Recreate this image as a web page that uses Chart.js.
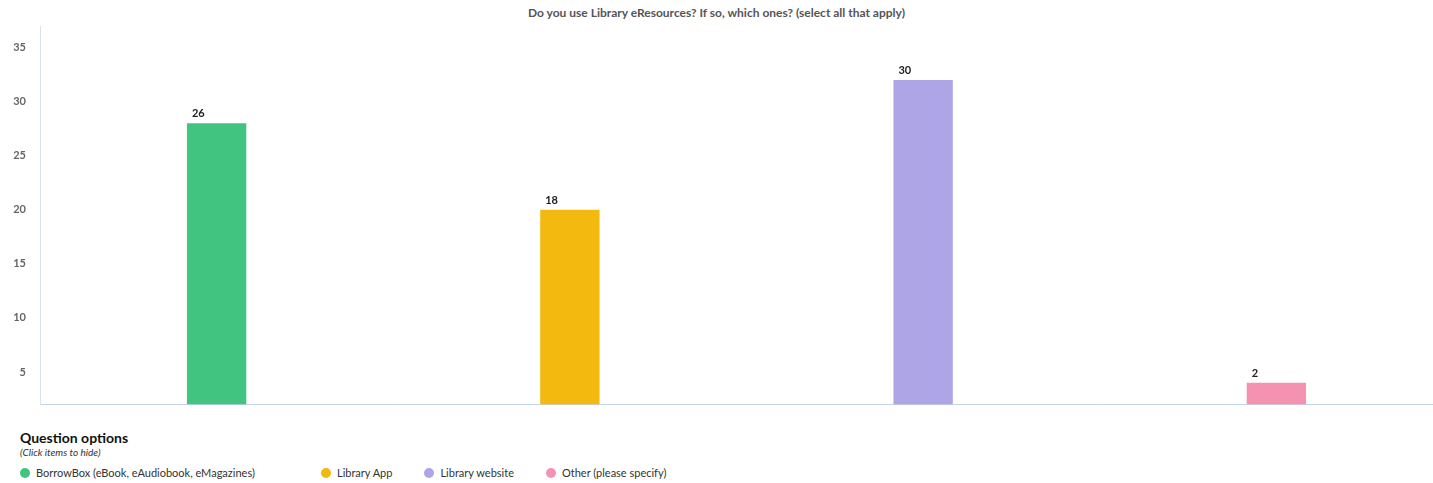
<!DOCTYPE html>
<html>
<head>
<meta charset="utf-8">
<script src="https://cdn.jsdelivr.net/npm/chart.js@4.4.0/dist/chart.umd.min.js"></script>
<style>
  html, body { margin: 0; padding: 0; overflow: hidden; background: #fff; font-family: Lato, sans-serif; }
  #title { position: absolute; top: 5px; left: 0; width: 1433px; text-align: center;
           font-size: 12px; font-weight: bold; color: #555; }
  #wrap { position: absolute; top: 0; left: 0; width: 1453px; height: 425px; }
  #legend { position: absolute; top: 430px; left: 20px; color: #333; }
  #legend h4 { margin: 0; font-size: 14px; font-weight: bold; color: #111; line-height: 16px; }
  #legend .hint { font-size: 10px; font-style: italic; color: #333; line-height: 12px; }
  #legend ul { list-style: none; margin: 8px 0 0 0; padding: 0; display: flex; }
  #legend li { display: flex; align-items: center; font-size: 11px; margin-right: 32px; cursor: pointer; }
  #legend li:first-child { min-width: 269px; }
  #legend li span.dot { width: 10px; height: 10px; border-radius: 50%; margin-right: 6px; }
  #legend li.off { opacity: 0.4; }
</style>
</head>
<body>
<div id="title">Do you use Library eResources? If so, which ones? (select all that apply)</div>
<div id="wrap"><canvas id="myChart" width="1453" height="425"></canvas></div>
<div id="legend">
  <h4>Question options</h4>
  <div class="hint">(Click items to hide)</div>
  <ul id="legendItems"></ul>
</div>
<script>
  'use strict'

  const categories = [
    'BorrowBox (eBook, eAudiobook, eMagazines)',
    'Library App',
    'Library website',
    'Other (please specify)'
  ];
  const responses = [26, 18, 30, 2];
  const colors = ['#40c47f', '#f3b90e', '#ada5e5', '#f592b2'];
  const yTicks = [5, 10, 15, 20, 25, 30, 35];
  const yMin = 2;
  const yMax = 37;

  // bars are measured up from the axis baseline
  const barData = responses.map(v => [yMin, yMin + v]);

  // value printed above each bar, aligned to its left edge
  const valueLabels = {
    id: 'valueLabels',
    afterDatasetsDraw(chart) {
      const ctx = chart.ctx;
      const meta = chart.getDatasetMeta(0);
      ctx.save();
      ctx.font = 'bold 11px Lato, sans-serif';
      ctx.fillStyle = '#222';
      ctx.textAlign = 'left';
      ctx.textBaseline = 'alphabetic';
      meta.data.forEach((bar, i) => {
        if (!chart.getDataVisibility(i)) return;
        ctx.fillText(String(responses[i]), bar.x - bar.width / 2 + 5, bar.y - 6);
      });
      ctx.restore();
    }
  };

  const ctx = document.getElementById('myChart');
  const myChart = new Chart(ctx, {
    type: 'bar',
    data: {
      labels: categories,
      datasets: [{
        data: barData,
        backgroundColor: colors,
        borderWidth: 0,
        borderSkipped: false,
        categoryPercentage: 1,
        barPercentage: 0.168
      }]
    },
    options: {
      responsive: false,
      animation: false,
      layout: { padding: { top: 26, left: 0, right: 0, bottom: 0 } },
      plugins: {
        legend: { display: false },
        tooltip: {
          callbacks: { label: item => String(responses[item.dataIndex]) }
        }
      },
      scales: {
        x: {
          afterFit: axis => { axis.height = 1; },
          grid: { display: false },
          border: { color: '#c3d4e4', width: 1 },
          ticks: { display: false }
        },
        y: {
          min: yMin,
          max: yMax,
          afterBuildTicks: axis => { axis.ticks = yTicks.map(v => ({ value: v })); },
          afterFit: axis => { axis.width = 40; },
          grid: { display: false, drawTicks: false },
          border: { color: '#d5e1ec', width: 1 },
          ticks: {
            padding: 14,
            color: '#666',
            font: { family: 'Lato, sans-serif', size: 11, weight: 'bold' }
          }
        }
      }
    },
    plugins: [valueLabels]
  });

  // legend list below the chart; clicking an item hides its bar
  const list = document.getElementById('legendItems');
  categories.forEach((name, i) => {
    const li = document.createElement('li');
    const dot = document.createElement('span');
    dot.className = 'dot';
    dot.style.background = colors[i];
    li.appendChild(dot);
    li.appendChild(document.createTextNode(name));
    li.addEventListener('click', () => {
      myChart.toggleDataVisibility(i);
      li.classList.toggle('off', !myChart.getDataVisibility(i));
      myChart.update();
    });
    list.appendChild(li);
  });
</script>
</body>
</html>
